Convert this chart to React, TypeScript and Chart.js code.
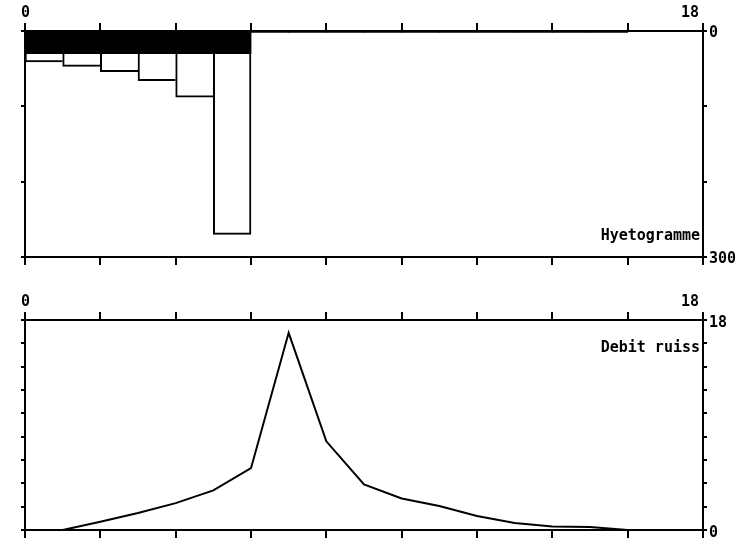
import React, { useEffect, useRef } from 'react';
import { Chart, registerables } from 'chart.js';

Chart.register(...registerables);

// ---- data ----
const hyetoStartHours = [0, 1, 2, 3, 4, 5];
const hyetoRain = [41, 47, 54, 66, 88, 270];
const lossStartHours = [0, 1, 2, 3, 4, 5, 6, 7, 8, 9, 10, 11, 12, 13, 14, 15];
const lossRain = [30, 30, 30, 30, 30, 30, 2, 2, 2, 2, 2, 2, 2, 2, 2, 2];
const hyetoLabelValues = [0, 300];

const flowHours = [0, 1, 2, 3, 4, 5, 6, 7, 8, 9, 10, 11, 12, 13, 14, 15, 16];
const flowValues = [0, 0, 0.7, 1.45, 2.3, 3.4, 5.3, 16.9, 7.6, 3.9, 2.7, 2.05, 1.2, 0.6, 0.3, 0.25, 0];
const flowLabelValues = [0, 18];

const timeLabelValues = [0, 18];
const TOP_TITLE = 'Hyetogramme';
const BOTTOM_TITLE = 'Debit ruiss';

// ---- styling ----
const FONT = { family: '"DejaVu Sans Mono", monospace', size: 15, weight: 'bold' as const };
const INK = '#000';

function gridOpts(tickLength: number) {
  return { drawOnChartArea: false, drawTicks: true, tickLength, color: INK, lineWidth: 2, offset: false };
}
const borderOpts = { display: true, color: INK, width: 2 };

function xAxis(position: 'top' | 'bottom', size: number, showLabels: boolean) {
  return {
    type: 'linear' as const,
    position,
    min: 0,
    max: 18,
    offset: false,
    grid: gridOpts(8),
    border: borderOpts,
    ticks: {
      display: showLabels,
      stepSize: 2,
      autoSkip: false,
      maxRotation: 0,
      align: 'inner' as const,
      labelOffset: -4,
      padding: 1,
      color: INK,
      font: FONT,
      callback: (v: number) => (timeLabelValues.includes(v) ? String(v) : ''),
    },
    afterFit: (s: any) => {
      s.height = size;
    },
  };
}

function yAxis(
  position: 'left' | 'right',
  size: number,
  max: number,
  step: number,
  reverse: boolean,
  labels: number[] | null,
  labelOffset: number
) {
  return {
    type: 'linear' as const,
    position,
    min: 0,
    max,
    reverse,
    grid: gridOpts(4),
    border: borderOpts,
    ticks: {
      display: !!labels,
      stepSize: step,
      autoSkip: false,
      padding: 2,
      labelOffset,
      color: INK,
      font: FONT,
      callback: (v: number) => (labels && labels.includes(v) ? String(v) : ''),
    },
    afterFit: (s: any) => {
      s.width = size;
    },
  };
}

function cornerText(text: string, where: 'top' | 'bottom', dy: number) {
  return {
    id: 'cornerText',
    afterDraw(chart: any) {
      const { ctx, chartArea } = chart;
      ctx.save();
      ctx.font = `bold ${FONT.size}px ${FONT.family}`;
      ctx.fillStyle = INK;
      ctx.textAlign = 'right';
      ctx.textBaseline = 'middle';
      const y = where === 'top' ? chartArea.top + dy : chartArea.bottom - dy;
      ctx.fillText(text, chartArea.right - 3, y);
      ctx.restore();
    },
  };
}

function HyetoChart() {
  const ref = useRef<HTMLCanvasElement>(null);
  useEffect(() => {
    if (!ref.current) return;
    const lastBar = hyetoRain.length - 1;
    const chart = new Chart(ref.current, {
      type: 'bar',
      data: {
        datasets: [
          {
            label: 'pertes',
            data: lossStartHours.map((h, i) => ({ x: h + 0.5, y: lossRain[i] })),
            backgroundColor: INK,
            borderWidth: 0,
            barPercentage: 1,
            categoryPercentage: 1,
            grouped: false,
            xAxisID: 'x',
            yAxisID: 'y',
          },
          {
            label: 'pluie',
            data: hyetoStartHours.map((h, i) => ({ x: h + 0.5, y: hyetoRain[i] })),
            backgroundColor: '#fff',
            borderColor: INK,
            borderWidth: (c: any) => ({ left: 2, right: c.dataIndex === lastBar ? 2 : 0, bottom: 2, top: 0 }),
            borderSkipped: false,
            barPercentage: 1,
            categoryPercentage: 1,
            grouped: false,
            xAxisID: 'x',
            yAxisID: 'y',
          },
        ],
      } as any,
      options: {
        animation: false,
        responsive: false,
        devicePixelRatio: 1,
        layout: { padding: 0 },
        plugins: { legend: { display: false }, tooltip: { enabled: false } },
        scales: {
          x: xAxis('bottom', 18, false),
          xTop: xAxis('top', 31, true),
          y: yAxis('left', 25, 300, 100, true, null, 0),
          yRight: yAxis('right', 47, 300, 100, true, hyetoLabelValues, 2),
        } as any,
      },
      plugins: [cornerText(TOP_TITLE, 'bottom', 21)],
    });
    return () => chart.destroy();
  }, []);
  return <canvas ref={ref} width={750} height={275} style={{ position: 'absolute', left: 0, top: 0 }} />;
}

function FlowChart() {
  const ref = useRef<HTMLCanvasElement>(null);
  useEffect(() => {
    if (!ref.current) return;
    const chart = new Chart(ref.current, {
      type: 'line',
      data: {
        datasets: [
          {
            label: 'debit',
            data: flowHours.map((h, i) => ({ x: h, y: flowValues[i] })),
            borderColor: INK,
            borderWidth: 2,
            pointRadius: 0,
            tension: 0,
            fill: false,
            xAxisID: 'x',
            yAxisID: 'y',
          },
        ],
      } as any,
      options: {
        animation: false,
        responsive: false,
        devicePixelRatio: 1,
        layout: { padding: 0 },
        plugins: { legend: { display: false }, tooltip: { enabled: false } },
        scales: {
          x: xAxis('bottom', 24, false),
          xTop: xAxis('top', 45, true),
          y: yAxis('left', 25, 18, 2, false, null, 0),
          yRight: yAxis('right', 47, 18, 2, false, flowLabelValues, 3),
        } as any,
      },
      plugins: [cornerText(BOTTOM_TITLE, 'top', 28)],
    });
    return () => chart.destroy();
  }, []);
  return <canvas ref={ref} width={750} height={279} style={{ position: 'absolute', left: 0, top: 275 }} />;
}

export default function App() {
  return (
    <div style={{ position: 'absolute', left: 0, top: 0, width: 750, height: 554, background: '#fff' }}>
      <HyetoChart />
      <FlowChart />
    </div>
  );
}
